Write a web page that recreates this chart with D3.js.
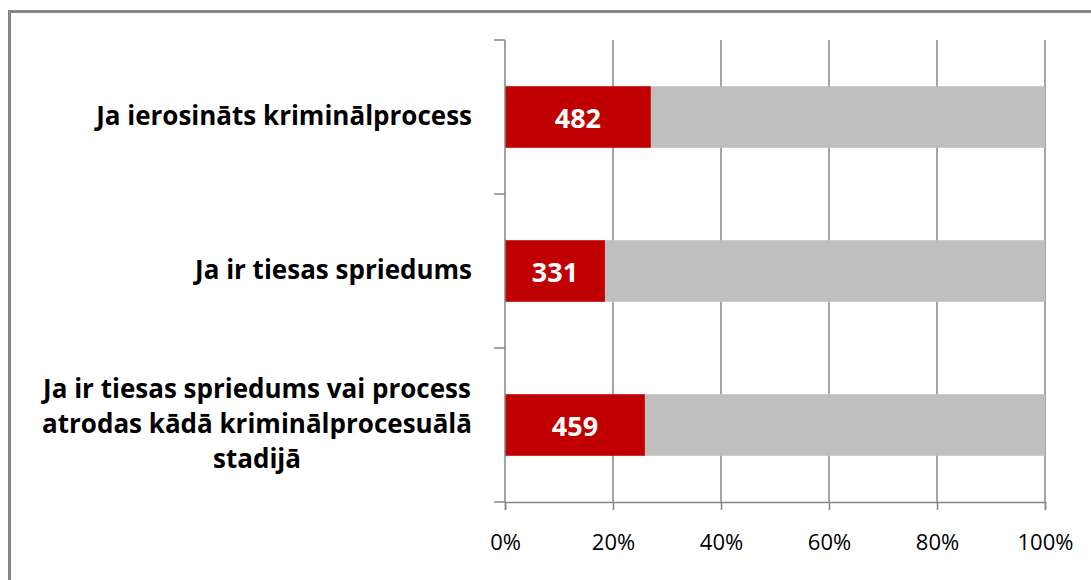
<!DOCTYPE html>
<html>
<head>
<meta charset="utf-8">
<script src="https://cdn.jsdelivr.net/npm/d3@7"></script>
<style>
html,body{margin:0;padding:0;background:#fff;}
svg{display:block;}
</style>
</head>
<body>
<svg id="chart" width="1091" height="580"></svg>
<script>
const categories = [
  ["Ja ierosināts kriminālprocess"],
  ["Ja ir tiesas spriedums"],
  ["Ja ir tiesas spriedums vai process", "atrodas kādā kriminālprocesuālā", "stadijā"]
];
const redValues = [482, 331, 459];
const grayValues = [1303, 1458, 1313];
const tickValues = [0, 0.2, 0.4, 0.6, 0.8, 1.0];
const tickLabels = ["0%", "20%", "40%", "60%", "80%", "100%"];

(function () {
const svg = d3.select("#chart");
const gridColor = "#868686";
const font = "'Open Sans', 'Noto Sans', sans-serif";

// outer frame (top and left visible)
svg.append("path").attr("d", "M9.5,580 V11.5 H1091")
  .attr("fill", "none").attr("stroke", "#878787").attr("stroke-width", 3);

const pL = 505, pR = 1045, pT = 40, pB = 502;
const x = d3.scaleLinear().domain([0, 1]).range([pL, pR]);
const y = d3.scaleBand().domain(d3.range(categories.length)).range([pT, pB])
  .paddingInner(0.6).paddingOuter(0.3);

const data = categories.map((c, i) => {
  const total = redValues[i] + grayValues[i];
  return {i, lines: c, red: redValues[i], gray: grayValues[i], rf: redValues[i] / total};
});

// gridlines
svg.append("g").selectAll("line").data(tickValues.slice(1)).join("line")
  .attr("x1", d => x(d)).attr("x2", d => x(d))
  .attr("y1", pT).attr("y2", pB)
  .attr("stroke", gridColor).attr("stroke-width", 1.5);

// bars
const g = svg.append("g");
g.selectAll("rect.gray").data(data).join("rect").attr("class", "gray")
  .attr("x", d => x(d.rf)).attr("width", d => x(1) - x(d.rf))
  .attr("y", d => y(d.i)).attr("height", y.bandwidth())
  .attr("fill", "#BFBFBF");
g.selectAll("rect.red").data(data).join("rect").attr("class", "red")
  .attr("x", x(0)).attr("width", d => x(d.rf) - x(0))
  .attr("y", d => y(d.i)).attr("height", y.bandwidth())
  .attr("fill", "#C00000");
g.selectAll("text.val").data(data).join("text").attr("class", "val")
  .attr("x", d => (x(0) + x(d.rf)) / 2)
  .attr("y", d => y(d.i) + y.bandwidth() / 2 + 11)
  .attr("text-anchor", "middle")
  .attr("font-family", font)
  .attr("font-weight", "bold").attr("font-size", 27)
  .attr("fill", "#fff")
  .text(d => d.red);

// x axis
const xAxis = d3.axisBottom(x).tickValues(tickValues)
  .tickFormat((d, i) => tickLabels[i]).tickSize(8).tickPadding(24);
const xg = svg.append("g").attr("transform", `translate(0,${pB})`).call(xAxis);
xg.select(".domain").attr("stroke", gridColor).attr("stroke-width", 1.5);
xg.selectAll(".tick line").attr("stroke", gridColor).attr("stroke-width", 1.5);
xg.selectAll(".tick text").attr("font-family", font)
  .attr("font-size", 22).attr("fill", "#000");

// y axis line with boundary ticks
const yg = svg.append("g");
yg.append("line").attr("x1", pL).attr("x2", pL).attr("y1", pT).attr("y2", pB)
  .attr("stroke", gridColor).attr("stroke-width", 1.5);
const bounds = d3.range(categories.length + 1).map(k => pT + k * (pB - pT) / categories.length);
yg.selectAll("line.bt").data(bounds).join("line").attr("class", "bt")
  .attr("x1", pL - 11).attr("x2", pL).attr("y1", d => d).attr("y2", d => d)
  .attr("stroke", gridColor).attr("stroke-width", 1.5);

// category labels
const labelRight = 472;
const lg = svg.append("g");
data.forEach(d => {
  const n = d.lines.length;
  const lh = 35;
  const cy = y(d.i) + y.bandwidth() / 2;
  const t = lg.append("text")
    .attr("font-family", font)
    .attr("font-weight", "bold").attr("font-size", 26).attr("fill", "#000");
  d.lines.forEach((ln, k) => {
    t.append("tspan").attr("x", 0).attr("y", cy + 8 + (k - (n - 1) / 2) * lh).text(ln);
  });
  const spans = t.selectAll("tspan").nodes();
  const widths = spans.map(s => s.getComputedTextLength());
  const maxW = d3.max(widths);
  spans.forEach((s, k) => {
    d3.select(s).attr("x", labelRight - maxW + (maxW - widths[k]) / 2);
  });
});
})();
</script>
</body>
</html>
